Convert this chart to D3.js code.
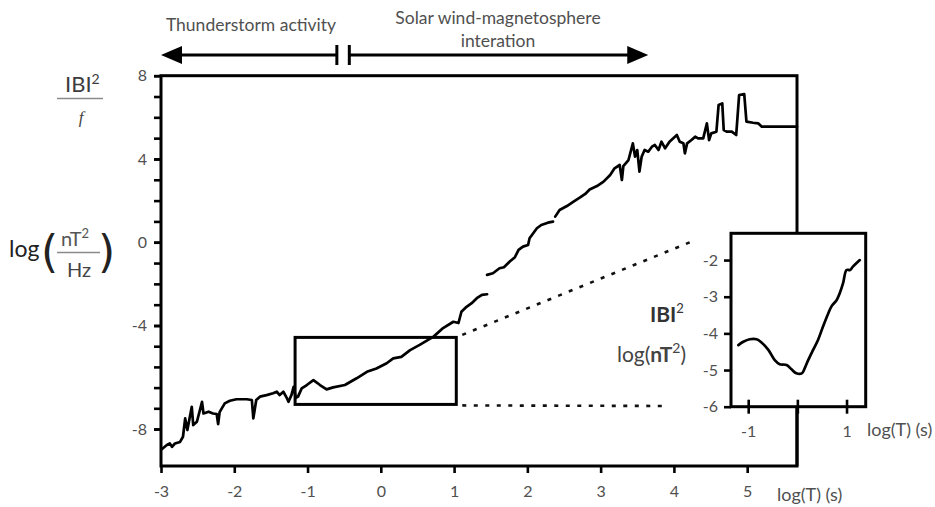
<!DOCTYPE html>
<html>
<head>
<meta charset="utf-8">
<script src="https://cdn.jsdelivr.net/npm/d3@7"></script>
<style>
  body { margin: 0; background: #fff; }
  svg text { font-family: Lato, "Open Sans", sans-serif; }
</style>
</head>
<body>
<svg id="chart" width="935" height="507"></svg>
<script>
// Power spectrum, log(|B|^2 / f) against log(T); three separate stretches of record
const segment1 = [
  [-2.99,-8.78],[-2.92,-8.62],[-2.88,-8.56],[-2.85,-8.69],[-2.81,-8.56],[-2.74,-8.50],
  [-2.70,-8.30],[-2.67,-7.59],[-2.64,-8.04],[-2.58,-7.14],[-2.56,-7.85],[-2.51,-7.72],
  [-2.44,-6.95],[-2.42,-7.40],[-2.35,-7.33],[-2.29,-7.40],[-2.24,-7.42],[-2.22,-7.81],
  [-2.20,-7.35],[-2.13,-7.01],[-2.06,-6.91],[-1.97,-6.85],[-1.83,-6.85],[-1.76,-6.88],
  [-1.74,-7.59],[-1.70,-6.88],[-1.65,-6.75],[-1.56,-6.69],[-1.47,-6.62],[-1.42,-6.56],
  [-1.38,-6.69],[-1.33,-6.56],[-1.28,-6.82],[-1.26,-6.95],[-1.22,-6.69],[-1.19,-6.37],
  [-1.16,-6.80],[-1.13,-6.75],[-1.08,-6.43],[-1.01,-6.30],[-0.92,-6.11],[-0.83,-6.30],
  [-0.74,-6.47],[-0.65,-6.39],[-0.49,-6.30],[-0.33,-6.04],[-0.19,-5.79],[-0.06,-5.66],
  [0.08,-5.46],[0.17,-5.27],[0.28,-5.21],[0.40,-4.95],[0.53,-4.75],[0.72,-4.43],
  [0.85,-4.10],[0.99,-3.82],[1.06,-3.88],[1.10,-3.34],[1.17,-3.10],[1.24,-2.93],
  [1.31,-2.69],[1.38,-2.53],[1.45,-2.50]
];
const segment2 = [
  [1.45,-1.57],[1.53,-1.49],[1.62,-1.25],[1.68,-1.20],[1.76,-0.93],[1.83,-0.72],
  [1.88,-0.37],[1.94,-0.21],[2.01,-0.13],[2.03,0.19],[2.08,0.43],[2.13,0.67],
  [2.19,0.83],[2.28,0.94],[2.35,0.99]
];
const segment3 = [
  [2.38,1.23],[2.44,1.55],[2.54,1.74],[2.63,1.95],[2.72,2.15],[2.79,2.32],[2.85,2.53],
  [2.95,2.70],[3.04,2.91],[3.13,3.23],[3.19,3.55],[3.26,3.71],[3.29,2.99],[3.31,3.66],
  [3.38,3.95],[3.44,4.75],[3.47,4.11],[3.50,4.43],[3.53,3.39],[3.56,4.11],[3.60,4.43],
  [3.65,4.35],[3.70,4.59],[3.74,4.67],[3.79,4.43],[3.83,4.83],[3.88,4.51],[3.94,4.83],
  [4.04,5.15],[4.08,4.83],[4.13,4.75],[4.15,4.27],[4.18,4.75],[4.24,4.91],[4.29,5.07],
  [4.33,4.99],[4.40,4.99],[4.45,5.71],[4.48,4.91],[4.51,5.23],[4.58,5.31],[4.61,6.59],
  [4.66,6.67],[4.68,5.39],[4.72,5.31],[4.79,5.31],[4.85,5.15],[4.89,7.07],[4.96,7.12],
  [4.99,5.79],[5.08,5.74],[5.15,5.71],[5.20,5.55],[5.68,5.55]
];
// Zoomed view: log(|B|^2) against log(T)
const insetCurve = [
  [-1.20,-4.32],[-1.10,-4.23],[-0.97,-4.16],[-0.83,-4.16],[-0.73,-4.25],[-0.59,-4.45],
  [-0.46,-4.73],[-0.36,-4.84],[-0.22,-4.86],[-0.12,-4.98],[-0.02,-5.09],[0.09,-5.09],
  [0.15,-4.95],[0.22,-4.73],[0.32,-4.45],[0.42,-4.18],[0.52,-3.82],[0.63,-3.45],
  [0.70,-3.25],[0.80,-3.09],[0.86,-2.91],[0.93,-2.63],[1.00,-2.27],[1.07,-2.27],
  [1.13,-2.18],[1.27,-2.00]
];

const xTickValues = [-3, -2, -1, 0, 1, 2, 3, 4, 5];
const yTickLabels = [8, 4, 0, -4, -8];
const insetXTicks = [-1, 0, 1];
const insetXLabels = ["-1", "", "1"];
const insetYTicks = [-6, -5, -4, -3, -2];

// Region of the spectrum enlarged in the inset, and where its guide lines end
const zoomWindow = { x0: -1.17, x1: 1.03, yTop: -4.46, yBottom: -7.05 };
const guideEnds = { top: [4.24, 0.03], bottom: [3.88, -7.11] };

// Period ranges named above the plot
const regimes = [
  { lines: ["Thunderstorm activity"], start: -0.6, end: -3 },
  { lines: ["Solar wind-magnetosphere", "interation"], start: -0.43, end: 3.65 }
];

const svg = d3.select("#chart");
const textGray = "#505050";

// Main scales
const x = d3.scaleLinear().domain([-3, 5.68]).range([161, 797]);
const y = d3.scaleLinear().domain([-9.43, -8, -4, 8]).range([466, 429, 325.5, 75.7]);
const [xL, xR] = [x(-3), x(5.68)];
const [yB, yT] = [y(-9.43), y(8)];

// Minor ticks: whole units above -4, five steps between -4 and -8
const yMinor = d3.range(8, -4, -1).concat(d3.range(-4, -8.001, -0.8));

const gY = svg.append("g").attr("transform", `translate(${xL},0)`)
  .call(d3.axisLeft(y).tickValues(yMinor).tickSize(7).tickFormat(""));
gY.select(".domain").remove();
gY.selectAll(".tick line").attr("stroke", "#000").attr("stroke-width", 2.6);

const gYL = svg.append("g").attr("transform", `translate(${xL},0)`)
  .call(d3.axisLeft(y).tickValues(yTickLabels).tickSize(7).tickPadding(7).tickFormat(d => String(d)));
gYL.select(".domain").remove();
gYL.selectAll(".tick line").attr("stroke", "#000").attr("stroke-width", 2.6);
gYL.selectAll("text").attr("font-size", 16).attr("fill", textGray).style("font-family", "Lato");

const gX = svg.append("g").attr("transform", `translate(0,${yB})`)
  .call(d3.axisBottom(x).tickValues(xTickValues).tickSize(7).tickPadding(13).tickFormat(d => String(d)));
gX.select(".domain").remove();
gX.selectAll(".tick line").attr("stroke", "#000").attr("stroke-width", 2.6);
gX.selectAll("text").attr("font-size", 16).attr("fill", textGray).style("font-family", "Lato");

// Frame
svg.append("rect")
  .attr("x", xL).attr("y", yT).attr("width", xR - xL).attr("height", yB - yT)
  .attr("fill", "none").attr("stroke", "#000").attr("stroke-width", 3);

// Spectrum
const line = d3.line().x(d => x(d[0])).y(d => y(d[1]));
svg.append("g").selectAll("path")
  .data([segment1, segment2, segment3]).join("path")
  .attr("d", line)
  .attr("fill", "none").attr("stroke", "#000").attr("stroke-width", 2.7)
  .attr("stroke-linejoin", "round").attr("stroke-linecap", "round");

// Zoom window and guide lines
svg.append("rect")
  .attr("x", x(zoomWindow.x0)).attr("y", y(zoomWindow.yTop))
  .attr("width", x(zoomWindow.x1) - x(zoomWindow.x0))
  .attr("height", y(zoomWindow.yBottom) - y(zoomWindow.yTop))
  .attr("fill", "none").attr("stroke", "#000").attr("stroke-width", 3);

const guides = [
  [[zoomWindow.x1, zoomWindow.yTop], guideEnds.top],
  [[zoomWindow.x1, zoomWindow.yBottom], guideEnds.bottom]
];
svg.append("g").selectAll("line").data(guides).join("line")
  .attr("x1", d => x(d[0][0]) + 6).attr("y1", d => y(d[0][1]) - (d === guides[0] ? 2.5 : -1))
  .attr("x2", d => x(d[1][0])).attr("y2", d => y(d[1][1]))
  .attr("stroke", "#111").attr("stroke-width", 2.6).attr("stroke-dasharray", "4 7.5");

// Inset
const ix = d3.scaleLinear().domain([-1.35, 1.39]).range([731, 865.7]);
const iy = d3.scaleLinear().domain([-6, -1.27]).range([406.7, 233.3]);
svg.append("rect")
  .attr("x", ix(-1.35)).attr("y", iy(-1.27))
  .attr("width", ix(1.39) - ix(-1.35)).attr("height", iy(-6) - iy(-1.27))
  .attr("fill", "#fff").attr("stroke", "#000").attr("stroke-width", 3);

const giY = svg.append("g").attr("transform", `translate(${ix(-1.35)},0)`)
  .call(d3.axisLeft(iy).tickValues(insetYTicks).tickSize(7).tickPadding(6).tickFormat(d => String(d)));
giY.select(".domain").remove();
giY.selectAll(".tick line").attr("stroke", "#000").attr("stroke-width", 2.6);
giY.selectAll("text").attr("font-size", 16).attr("fill", textGray).style("font-family", "Lato");

const giX = svg.append("g").attr("transform", `translate(0,${iy(-6)})`)
  .call(d3.axisBottom(ix).tickValues(insetXTicks).tickSize(7).tickPadding(12)
    .tickFormat((d, i) => insetXLabels[i]));
giX.select(".domain").remove();
giX.selectAll(".tick line").attr("stroke", "#000").attr("stroke-width", 2.6).attr("y1", -7);
giX.selectAll("text").attr("font-size", 16).attr("fill", textGray).style("font-family", "Lato");

// Main frame's right edge continues below the inset
svg.append("line")
  .attr("x1", xR).attr("x2", xR).attr("y1", iy(-6)).attr("y2", yB)
  .attr("stroke", "#000").attr("stroke-width", 3);

svg.append("path")
  .datum(insetCurve)
  .attr("d", d3.line().x(d => ix(d[0])).y(d => iy(d[1])).curve(d3.curveCatmullRom))
  .attr("fill", "none").attr("stroke", "#000").attr("stroke-width", 2.7)
  .attr("stroke-linejoin", "round").attr("stroke-linecap", "round");

// Axis titles
svg.append("text").attr("x", 777).attr("y", 501).attr("font-size", 18).attr("fill", textGray)
  .text("log(T) (s)");
svg.append("text").attr("x", 867).attr("y", 436).attr("font-size", 18).attr("fill", textGray)
  .text("log(T) (s)");

const ib = svg.append("text").attr("x", 650).attr("y", 322).attr("font-size", 21)
  .attr("font-weight", 700).attr("fill", "#333");
ib.append("tspan").text("IBI");
ib.append("tspan").attr("font-size", 13).attr("font-weight", 400).attr("dy", -9).text("2");
const il = svg.append("text").attr("x", 617).attr("y", 362).attr("font-size", 21).attr("fill", "#444");
il.append("tspan").text("log(");
il.append("tspan").attr("font-weight", 700).text("nT");
il.append("tspan").attr("font-size", 14).attr("dy", -9).text("2");
il.append("tspan").attr("dy", 9).text(")");

// Main y title: (|B|^2 / f) in log(nT^2/Hz)
const yt = svg.append("text").attr("x", 65).attr("y", 92).attr("font-size", 22).attr("fill", "#3c3c3c");
yt.append("tspan").text("IBI");
yt.append("tspan").attr("font-size", 14).attr("dy", -8).text("2");
svg.append("line").attr("x1", 57).attr("x2", 103).attr("y1", 98.5).attr("y2", 98.5)
  .attr("stroke", "#8a8a8a").attr("stroke-width", 1.5);
svg.append("text").attr("x", 81).attr("y", 123).attr("text-anchor", "middle")
  .attr("font-size", 17).attr("font-style", "italic").attr("fill", "#444")
  .style("font-family", "'Liberation Serif', serif").text("f");

svg.append("text").attr("x", 9).attr("y", 257).attr("font-size", 23).attr("fill", "#222").text("log");
svg.append("text").attr("x", 41).attr("y", 267).attr("font-size", 44).attr("fill", "#222")
  .style("font-family", "'DejaVu Sans', sans-serif").text("(");
svg.append("text").attr("x", 98).attr("y", 267).attr("font-size", 44).attr("fill", "#222")
  .style("font-family", "'DejaVu Sans', sans-serif").text(")");
const nt = svg.append("text").attr("x", 61).attr("y", 246).attr("font-size", 20).attr("fill", "#555");
nt.append("tspan").text("nT");
nt.append("tspan").attr("font-size", 13).attr("dy", -8).text("2");
svg.append("line").attr("x1", 57).attr("x2", 100).attr("y1", 252.5).attr("y2", 252.5)
  .attr("stroke", "#8a8a8a").attr("stroke-width", 1.5);
svg.append("text").attr("x", 79).attr("y", 277).attr("text-anchor", "middle")
  .attr("font-size", 20).attr("fill", "#444").text("Hz");

// Regime arrows above the plot
const arrowY = 55;
regimes.forEach(r => {
  const xs = x(r.start), xe = x(r.end);
  const dir = Math.sign(xe - xs);
  svg.append("line").attr("x1", xs).attr("x2", xe - dir * 15).attr("y1", arrowY).attr("y2", arrowY)
    .attr("stroke", "#000").attr("stroke-width", 3);
  svg.append("line").attr("x1", xs).attr("x2", xs).attr("y1", arrowY - 10).attr("y2", arrowY + 10)
    .attr("stroke", "#000").attr("stroke-width", 3);
  svg.append("path")
    .attr("d", `M${xe},${arrowY}L${xe - dir * 21},${arrowY - 9}L${xe - dir * 21},${arrowY + 9}Z`)
    .attr("fill", "#000");
});
svg.append("text").attr("x", 251).attr("y", 31).attr("text-anchor", "middle")
  .attr("font-size", 17.5).attr("fill", textGray).text(regimes[0].lines[0]);
regimes[1].lines.forEach((t, i) => {
  svg.append("text").attr("x", 498).attr("y", 24 + i * 23).attr("text-anchor", "middle")
    .attr("font-size", 17.5).attr("fill", textGray).text(t);
});
</script>
</body>
</html>
